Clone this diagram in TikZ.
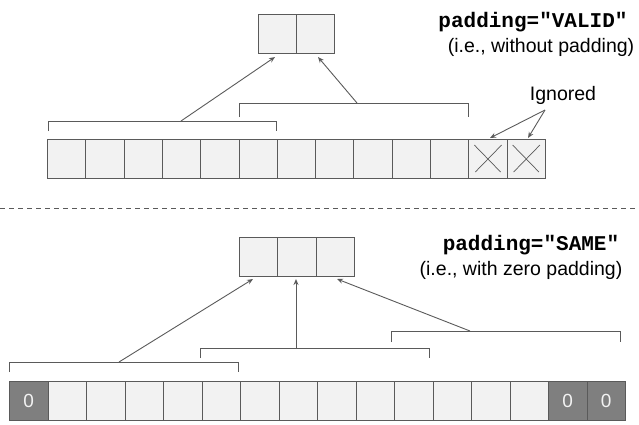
\documentclass[tikz,border=0pt]{standalone}
\usepackage{fontspec}
\setmainfont{Liberation Sans}
\setmonofont{Liberation Mono}
\usetikzlibrary{arrows.meta}
\definecolor{cellfill}{HTML}{F2F2F2}
\definecolor{edge}{HTML}{5A5A5A}
\definecolor{dark}{HTML}{7F7F7F}
\begin{document}
\begin{tikzpicture}[x=1pt,y=-1pt,
  cell/.style={draw=edge,line width=1pt,fill=cellfill,minimum width=38.3pt,minimum height=39pt,inner sep=0pt,anchor=north west},
  pad/.style={cell,fill=dark,text=white!90!gray,font=\fontsize{19}{19}\selectfont},
  brk/.style={draw=edge,line width=0.9pt},
  arr/.style={draw=edge,line width=0.9pt,-{Stealth[open,length=6pt,width=5pt]}},
  lbl/.style={font=\fontsize{19.5}{21}\selectfont,text=black,inner sep=0pt},
  code/.style={lbl,font=\ttfamily\bfseries\fontsize{21}{22}\selectfont}]
\useasboundingbox (0,0) rectangle (639,424);
% top
\foreach \i in {0,...,12}{\node[cell] (t\i) at ({47+38.3*\i},139) {};}
\foreach \i in {11,12}{\draw[edge,line width=0.7pt] (t\i.north west) ++(6,6) -- ++(26.3,27) (t\i.north east) ++(-6,6) -- ++(-26.3,27);}
\node[cell,minimum width=38pt] (o0) at (258,14) {};
\node[cell,minimum width=38pt] (o1) at (296,14) {};
\draw[brk] (48,131) -- (48,121) -- (276,121) -- (276,131);
\draw[brk] (239,117) -- (239,103) -- (468,103) -- (468,117);
\coordinate (b1) at (181,121);
\coordinate (b2) at (357,103);
\draw[arr] (b1) -- (275,57);
\draw[arr] (b2) -- (318,57);
\node[lbl] (ign) at (563,95) {Ignored};
\draw[arr] (545,110) -- (490,138);
\draw[arr] (545,110) -- (528,138);
\node[code] (v1) at (533,22) {padding="VALID"};
\node[lbl] (v2) at (541,47) {(i.e., without padding)};
\draw[edge,dashed,line width=0.8pt,dash pattern=on 5pt off 4pt] (0,208) -- (639,208);
% bottom
\foreach \i in {0,...,15}{\node[cell,minimum width=38.5pt] (s\i) at ({9+38.5*\i},381) {};}
\foreach \i in {0,14,15}{\node[pad,minimum width=38.5pt] at ({9+38.5*\i},381) {0};}
\foreach \i in {0,1,2}{\node[cell,minimum width=38.3pt] (p\i) at ({239+38.3*\i},237) {};}
\draw[brk] (9,372) -- (9,362) -- (238,362) -- (238,372);
\draw[brk] (200,358) -- (200,348) -- (429,348) -- (429,358);
\draw[brk] (391,342) -- (391,331) -- (620,331) -- (620,342);
\draw[arr] (119,362) -- (253,279);
\draw[arr] (296,348) -- (296,279);
\draw[arr] (470,331) -- (337,279);
\node[code] (w1) at (531,245) {padding="SAME"};
\node[lbl] (w2) at (521,270) {(i.e., with zero padding)};
\end{tikzpicture}
\end{document}
